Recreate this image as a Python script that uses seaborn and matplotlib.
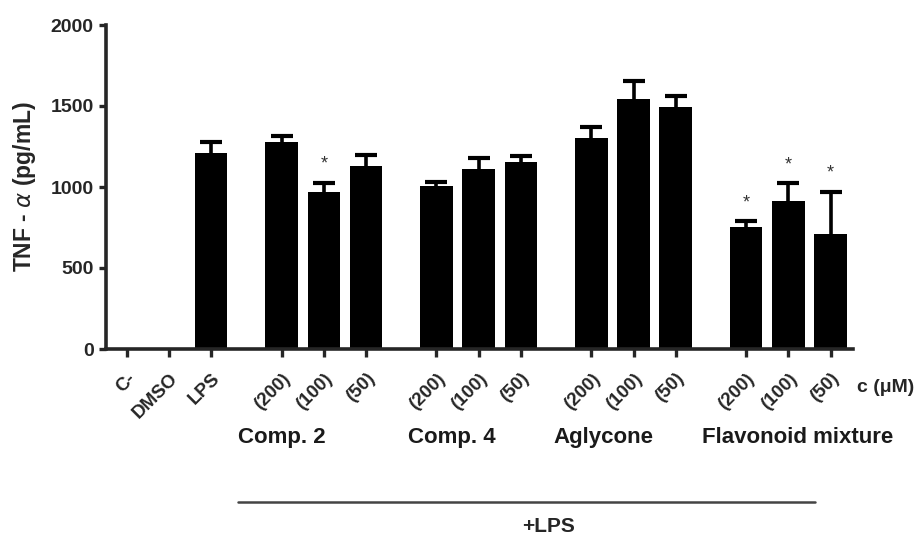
import numpy as np
import pandas as pd
import seaborn as sns
import matplotlib.pyplot as plt

# TNF-alpha release (mean + upper SEM)
labels = ["C-", "DMSO", "LPS",
          "(200)", "(100)", "(50)",
          "(200)", "(100)", "(50)",
          "(200)", "(100)", "(50)",
          "(200)", "(100)", "(50)"]
groups = ["ctrl", "ctrl", "ctrl",
          "Comp. 2", "Comp. 2", "Comp. 2",
          "Comp. 4", "Comp. 4", "Comp. 4",
          "Aglycone", "Aglycone", "Aglycone",
          "Flavonoid mixture", "Flavonoid mixture", "Flavonoid mixture"]
tnf = [0, 0, 1208, 1276, 971, 1132, 1008, 1109, 1152,
       1300, 1541, 1496, 751, 915, 710]
sem = [0, 0, 72, 41, 56, 66, 25, 72, 41, 70, 115, 68, 37, 108, 261]
signif = [False, False, False, False, True, False, False, False, False,
          False, False, False, True, True, True]
group_names = ["Comp. 2", "Comp. 4", "Aglycone", "Flavonoid mixture"]
group_left_px = [238, 408, 553, 702]

sns.set_style("ticks")
plt.rcParams["font.family"] = ["Liberation Sans", "DejaVu Sans"]

# slot positions: controls side by side, then a gap before each treatment group
pos = []
x = 0.0
for i, g in enumerate(groups):
    if i > 0 and g != groups[i - 1]:
        x += 0.67
    pos.append(x)
    x += 1.0

df = pd.DataFrame({"pos": pos, "TNF": tnf, "sem": sem, "label": labels, "group": groups})
df["top"] = df["TNF"] + df["sem"]

W, H = 921, 536
fig = plt.figure(figsize=(W / 100, H / 100), dpi=100)
ax = fig.add_axes([106 / W, 1 - 349 / H, 747 / W, 324 / H])

sns.barplot(data=df, x="pos", y="TNF", native_scale=True, color="black",
            width=0.77, errorbar=None, ax=ax, saturation=1, linewidth=0)

# upper-only SEM bars
err = df[df["sem"] > 0]
ax.vlines(err["pos"], err["TNF"], err["top"], color="black", lw=2.6)
ax.hlines(err["top"], err["pos"] - 0.26, err["pos"] + 0.26, color="black", lw=3)

for p, t, sig in zip(pos, df["top"], signif):
    if sig:
        ax.annotate("*", (p, t), xytext=(0, 7), textcoords="offset points",
                    ha="center", va="bottom", fontsize=13, color="#333333")

ax.set_xlim(-0.49, 17.21)
ax.set_ylim(0, 2000)
ax.set_yticks([0, 500, 1000, 1500, 2000])
ax.set_xticks(pos)
ax.set_xticklabels(labels, rotation=45, ha="right", rotation_mode="anchor",
                   fontsize=13.5, fontweight="bold")
for t in ax.get_yticklabels():
    t.set_fontsize(14)
    t.set_fontweight("bold")
ax.set_xlabel("")
ax.set_ylabel("TNF - $\\alpha$ (pg/mL)", fontsize=16.5, fontweight="bold", labelpad=9)
ax.tick_params(axis="x", length=6, width=2.4, pad=9)
ax.tick_params(axis="y", length=5, width=2.4, pad=4)
for side in ["left", "bottom"]:
    ax.spines[side].set_linewidth(2.6)
sns.despine(ax=ax)

# treatment group names under the concentration labels
for g, left in zip(group_names, group_left_px):
    fig.text(left / W, 1 - 443 / H, g, ha="left", va="baseline",
             fontsize=16, fontweight="bold", color="#1a1a1a")

fig.text(857 / W, 1 - 388 / H, "c (\u03bcM)", ha="left", va="center",
         fontsize=14, fontweight="bold")

# +LPS bracket
fig.add_artist(plt.Line2D([238 / W, 815 / W], [1 - 501.5 / H, 1 - 501.5 / H],
                          color="#444444", lw=1.8))
fig.text(549 / W, 1 - 527 / H, "+LPS", ha="center", va="center",
         fontsize=15, fontweight="bold")

fig.savefig("out.png", dpi=100)
